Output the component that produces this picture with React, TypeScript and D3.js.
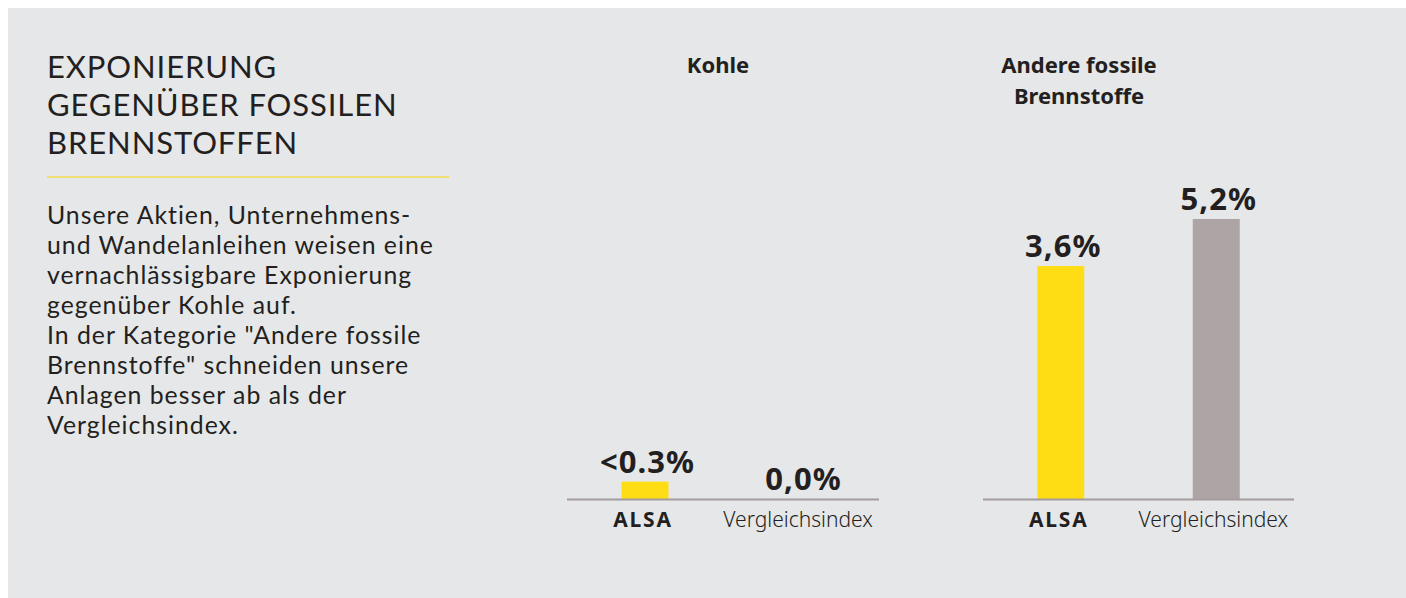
import React from "react";
import * as d3 from "d3";

const categories = ["ALSA", "Vergleichsindex"];
const kohleValues = [0.02, 0];
const kohleLabels = ["<0.3%", "0,0%"];
const andereValues = [3.6, 5.2];
const andereLabels = ["3,6%", "5,2%"];
const titleLines = ["EXPONIERUNG", "GEGENÜBER FOSSILEN", "BRENNSTOFFEN"];
const bodyLines = [
  "Unsere Aktien, Unternehmens-",
  "und Wandelanleihen weisen eine",
  "vernachlässigbare Exponierung",
  "gegenüber Kohle auf.",
  "In der Kategorie \"Andere fossile",
  "Brennstoffe\" schneiden unsere",
  "Anlagen besser ab als der",
  "Vergleichsindex.",
];
const panelTitles = [["Kohle"], ["Andere fossile", "Brennstoffe"]];

const W = 1406;
const H = 598;
const FONT = "'Noto Sans', Lato, sans-serif";
const TEXT_FONT = "Lato, 'Noto Sans', sans-serif";
const DARK = "#231f20";
const BG = "#e6e7e8";
const colors = ["#ffdd15", "#ada5a5"];

const baseline = 499;
const y = d3.scaleSqrt().domain([0, 5.2]).range([baseline, 219]);

function Panel({ x0, x1, values, labels, title, titleX }: any) {
  const x = d3.scalePoint<string>().domain(categories).range([x0, x1]).padding(0.5);
  const bw = 47;
  return (
    <g>
      {title.map((t: string, i: number) => (
        <text key={t} x={titleX} y={73 + i * 31} textAnchor="middle" fontFamily={FONT} fontWeight={700} fontSize={22} fill={DARK}>
          {t}
        </text>
      ))}
      {values.map((v: number, i: number) => {
        const cx = x(categories[i])!;
        const top = y(v);
        return (
          <g key={i}>
            {v > 0 && <rect x={cx - bw / 2} y={top} width={bw} height={baseline - top} fill={colors[i]} />}
            <text x={cx + 2.5} y={top - 9} textAnchor="middle" fontFamily={FONT} fontWeight={700} fontSize={31} letterSpacing={1} fill={DARK}>
              {labels[i]}
            </text>
            <text
              x={i === 0 ? cx - 2 : cx - 3}
              y={527}
              textAnchor="middle"
              fontFamily={FONT}
              fontWeight={i === 0 ? 700 : 300}
              fontSize={21}
              letterSpacing={i === 0 ? 1.8 : 0}
              fill={DARK}
            >
              {categories[i]}
            </text>
          </g>
        );
      })}
      <line x1={x0} x2={x1} y1={baseline + 0.5} y2={baseline + 0.5} stroke="#a39c9e" strokeWidth={2} />
    </g>
  );
}

export default function App() {
  return (
    <svg width={W} height={H} style={{ position: "absolute", left: 0, top: 0, display: "block" }}>
      <rect x={8} y={8} width={W - 8} height={H - 8} fill={BG} />
      {titleLines.map((t, i) => (
        <text key={t} x={47} y={78 + i * 38} fontFamily={TEXT_FONT} fontWeight={400} fontSize={31} letterSpacing={0.9} fill={DARK}>
          {t}
        </text>
      ))}
      <line x1={47} x2={449} y1={177} y2={177} stroke="#f2dc4e" strokeWidth={1.5} />
      {bodyLines.map((t, i) => (
        <text key={i} x={47} y={224 + i * 30} fontFamily={TEXT_FONT} fontWeight={400} fontSize={24.8} letterSpacing={1.0} fill={DARK}>
          {t}
        </text>
      ))}
      <Panel x0={567} x1={879} values={kohleValues} labels={kohleLabels} title={panelTitles[0]} titleX={718} />
      <Panel x0={983} x1={1294} values={andereValues} labels={andereLabels} title={panelTitles[1]} titleX={1079} />
    </svg>
  );
}
